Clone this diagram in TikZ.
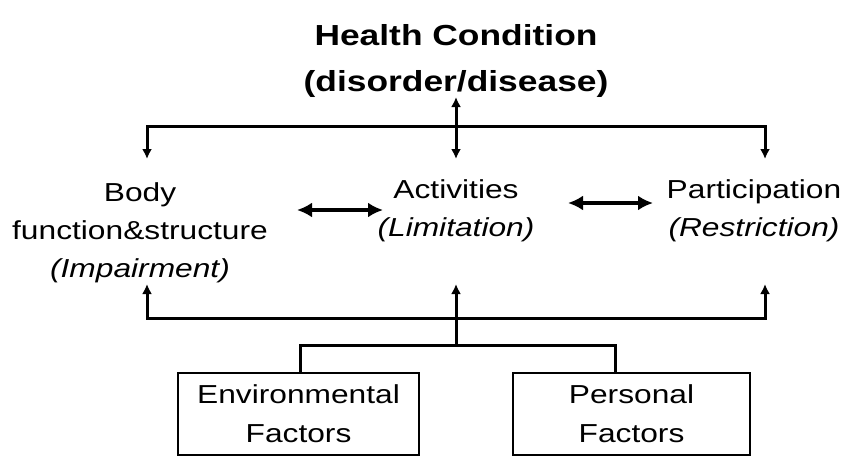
\documentclass[tikz,border=0pt]{standalone}
\usepackage{fontspec}
\setmainfont{Liberation Sans}[FakeStretch=1.22]
\usetikzlibrary{arrows.meta}
\begin{document}
\begin{tikzpicture}[x=1pt,y=-1pt,
  lbl/.style={align=center, font=\fontsize{26}{38}\selectfont, inner sep=0pt, anchor=base},
  ttl/.style={align=center, font=\fontsize{29}{46}\selectfont\bfseries, inner sep=1pt, anchor=base},
  fbox/.style={draw, line width=1.6pt, minimum width=241pt, minimum height=82pt, align=center,
     font=\fontsize{26}{39}\selectfont, inner sep=0pt},
  bus/.style={line width=3pt, line cap=rect},
  arr/.style={line width=3pt, -{Latex[length=10pt,width=10pt]}},
  dbl/.style={line width=4pt, {Latex[length=15pt,width=15pt]}-{Latex[length=15pt,width=15pt]}}
]
\useasboundingbox (0,0) rectangle (857,461);
\fill[white] (0,0) rectangle (857,461);

\node[ttl] (hc) at (456,91) {Health Condition\\(disorder/disease)};
\node[lbl] (body) at (140,277) {Body\\function\&structure\\\textit{(Impairment)}};
\node[lbl] (act) at (456,236) {Activities\\\textit{(Limitation)}};
\node[lbl] (part) at (754,236) {Participation\\\textit{(Restriction)}};
\node[fbox] (env) at (298.5,414) {Environmental\\Factors};
\node[fbox, minimum width=237pt] (pers) at (631.5,414) {Personal\\Factors};

% top bus
\coordinate (tl) at (147,126);
\coordinate (tm) at (456,126);
\coordinate (tr) at (765,126);
\coordinate (hcin) at (456,97);
\coordinate (bodyin) at (147,159);
\coordinate (actin) at (456,159);
\coordinate (partin) at (765,159);
\draw[bus] (tl) -- (tr);
\draw[arr] (tm) -- (hcin);
\draw[arr] (tl) -- (bodyin);
\draw[arr] (tm) -- (actin);
\draw[arr] (tr) -- (partin);

% bottom bus
\coordinate (bl) at (147,318);
\coordinate (bm) at (456,318);
\coordinate (br) at (765,318);
\coordinate (bodyout) at (147,284);
\coordinate (actout) at (456,284);
\coordinate (partout) at (765,284);
\draw[bus] (bl) -- (br);
\draw[arr] (bl) -- (bodyout);
\draw[arr] (bm) -- (actout);
\draw[arr] (br) -- (partout);

\coordinate (fm) at (456,345);
\coordinate (fl) at (300,345);
\coordinate (fr) at (615,345);
\draw[bus] (bm) -- (fm);
\draw[bus] (fl) -- (fr);
\draw[line width=3pt] (fl) -- (fl |- env.north);
\draw[line width=3pt] (fr) -- (fr |- pers.north);

% double arrows
\coordinate (a1) at (297,210);
\coordinate (a2) at (383,210);
\coordinate (a3) at (568,203);
\coordinate (a4) at (653,203);
\draw[dbl] (a1) -- (a2);
\draw[dbl] (a3) -- (a4);
\end{tikzpicture}
\end{document}
